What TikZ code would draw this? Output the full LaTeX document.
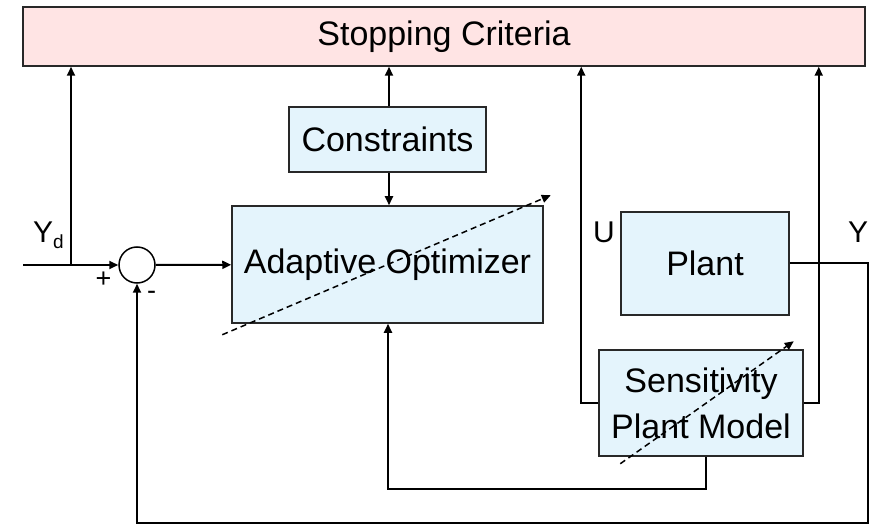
\documentclass[tikz,border=0pt]{standalone}
\usepackage{fontspec}
\setmainfont{Liberation Sans}
\usepackage{xcolor}
\usetikzlibrary{arrows.meta, positioning, calc}
\definecolor{blockblue}{RGB}{228, 244, 252}
\definecolor{stoppink}{RGB}{255, 228, 228}
\definecolor{edgegray}{RGB}{40, 40, 40}
\tikzstyle{block} = [rectangle, draw=edgegray, fill=blockblue, text centered, line width=1.5pt, inner sep=0pt, font=\fontsize{34}{46}\selectfont]
\tikzstyle{arrow} = [-{Triangle[length=9pt, width=8pt]}, line width=2pt]
\tikzstyle{wire} = [line width=2pt]
\tikzstyle{adapt} = [-{Triangle[length=9pt, width=8pt]}, dash pattern=on 6pt off 4pt, line width=1.5pt]
\tikzstyle{lbl} = [inner sep=0pt, font=\fontsize{30}{30}\selectfont]
\tikzstyle{sign} = [inner sep=0pt, font=\fontsize{27}{27}\selectfont]

\begin{document}
\begin{tikzpicture}[x=1pt, y=-1pt]
    \useasboundingbox (0,0) rectangle (877,526);

    % Top bar
    \node[block, fill=stoppink, minimum width=842pt, minimum height=59pt] (stop) at (444,36.5) {Stopping Criteria};

    % Blocks
    \node[block, minimum width=197pt, minimum height=65pt] (constr) at (387.5,139.5) {Constraints};
    \node[block, minimum width=311pt, minimum height=117pt] (opt) at (387.5,264.5) {Adaptive Optimizer};
    \node[block, minimum width=168pt, minimum height=103pt] (plant) at (705,263.5) {Plant};
    \node[block, minimum width=204pt, minimum height=106pt, align=center] (sens) at (701,403) {Sensitivity\\Plant Model};

    % Summing junction
    \node[draw, circle, line width=1.5pt, minimum size=36pt, inner sep=0pt] (sum) at (137,265) {};
    \node[sign] (plus) at (103.5,280) {+};
    \node[sign] (minus) at (151.5,295.5) {-};

    % Signal labels
    \node[lbl, anchor=base west] (ydlbl) at (33,243) {Y\raisebox{-6pt}{\fontsize{19}{19}\selectfont d}};
    \node[lbl, anchor=base west] (ulbl) at (593,243) {U};
    \node[lbl, anchor=base west] (ylbl) at (848,243) {Y};

    % Reference input
    \coordinate (ydin) at (23,265);
    \coordinate (ydtap) at (71,265);
    \draw[wire] (ydin) -- (ydtap);
    \draw[arrow] (ydtap) -- (sum);
    \draw[arrow] (ydtap) -- (ydtap |- stop.south);

    % Optimizer paths
    \draw[arrow] (sum) -- (opt);
    \draw[arrow] ([xshift=1.5pt]constr.south) -- ([xshift=1.5pt]opt.north);
    \draw[arrow] ([xshift=1.5pt]constr.north) -- ([xshift=1.5pt]constr.north |- stop.south);

    % Plant output and feedback
    \draw[arrow] (plant.east) -| ++(78,259) -| (sum.south);

    % Sensitivity model
    \draw[arrow] (sens.west) -- ++(-17,0) coordinate (ul) -- (ul |- stop.south);
    \draw[arrow] (sens.east) -- ++(15,0) coordinate (ur) -- (ur |- stop.south);
    \draw[arrow] ([xshift=5pt]sens.south) -- ++(0,32) -| ([xshift=0.5pt]opt.south);

    % Adaptation
    \draw[adapt] ($(opt.south west)+(-9,11)$) -- ($(opt.north east)+(7,-10)$);
    \draw[adapt] ($(sens.south west)+(22,7)$) -- ($(sens.north east)+(-10,-8)$);
\end{tikzpicture}
\end{document}
